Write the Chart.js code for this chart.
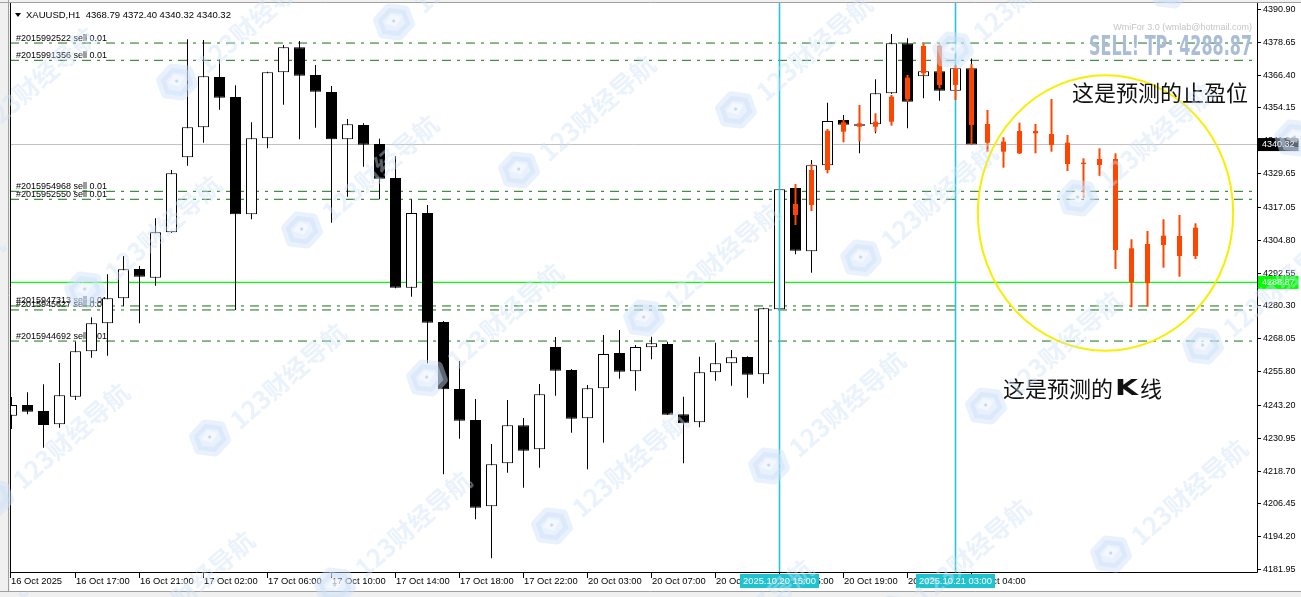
<!DOCTYPE html>
<html><head><meta charset="utf-8">
<script src="https://cdn.jsdelivr.net/npm/chart.js@4.4.1/dist/chart.umd.min.js"></script>
<style>html,body{margin:0;padding:0;background:#f0f0f0;overflow:hidden}canvas{display:block}</style>
</head><body>
<canvas id="c" width="1301" height="597"></canvas>
<script>
// ---------- DATA ----------
const symbolTitle = "XAUUSD,H1  4368.79 4372.40 4340.32 4340.32";
// real H1 candles, index 0 = 16 Oct 13:00
const opens = [4239.15,4243.14,4240.90,4235.94,4246.24,4263.18,4273.63,4282.95,4293.89,4290.64,
  4307.58,4335.57,4346.76,4365.53,4358.07,4314.30,4342.66,4367.28,4376.61,4366.27,
  4359.93,4342.28,4347.62,4340.53,4327.84,4286.91,4314.78,4274.11,4249.11,4237.54,
  4205.34,4221.39,4235.57,4226.61,4264.78,4256.20,4238.18,4249.37,4262.54,4255.71,
  4264.67,4265.90,4239.67,4236.68,4255.34,4258.70,4261.05,4254.59,4278.85,4324.11,
  4300.49,4332.58,4349.48,4347.88,4347.88,4359.45,4378.10,4365.79,4367.66,4360.42,4368.79];
const highs = [4246.13,4247.88,4250.86,4258.81,4266.76,4275.86,4291.91,4298.74,4295.01,4312.80,
  4330.83,4379.60,4379.33,4372.13,4362.43,4348.63,4367.50,4377.47,4378.96,4370.01,
  4362.17,4349.86,4348.25,4342.51,4336.05,4319.89,4317.77,4274.48,4259.56,4245.38,
  4228.59,4245.01,4238.29,4250.98,4268.51,4256.57,4250.60,4269.26,4271.13,4265.53,
  4268.63,4266.76,4246.24,4261.16,4266.39,4263.66,4261.30,4279.40,4323.80,4324.30,
  4334.56,4355.94,4351.35,4348.37,4364.67,4381.57,4379.97,4370.00,4370.50,4370.01,4372.40];
const lows = [4234.19,4239.67,4227.21,4234.67,4245.01,4260.79,4261.54,4280.08,4273.63,4287.66,
  4307.32,4332.43,4341.01,4353.33,4278.59,4312.43,4338.92,4355.19,4342.28,4346.61,
  4311.16,4320.86,4332.06,4319.89,4286.69,4283.55,4258.70,4217.28,4230.57,4200.49,
  4185.94,4217.88,4212.28,4219.75,4246.61,4232.80,4219.15,4229.07,4252.95,4248.48,
  4260.19,4239.40,4221.39,4234.82,4252.21,4250.34,4245.87,4251.09,4278.50,4299.37,
  4292.51,4331.57,4347.50,4337.06,4344.52,4359.20,4346.39,4357.58,4356.68,4356.95,4340.32];
const closes = [4243.14,4240.64,4235.68,4246.76,4263.18,4273.63,4282.95,4293.77,4291.01,4307.58,
  4329.60,4346.76,4365.79,4357.80,4314.30,4342.66,4367.28,4376.61,4366.01,4360.04,
  4342.28,4347.88,4340.27,4327.58,4286.91,4314.78,4273.85,4249.00,4237.28,4204.82,
  4221.01,4235.57,4226.09,4247.13,4255.94,4238.03,4249.37,4262.17,4255.56,4264.78,
  4266.16,4239.52,4236.31,4255.34,4258.70,4260.94,4254.45,4279.22,4323.63,4300.72,
  4332.58,4349.11,4347.73,4347.36,4359.45,4378.10,4356.31,4367.66,4360.42,4368.77,4340.32];

// forecast candles (orange), first one sits on candle index 49
const forecastStart = 49;
const fcOpen  = [4314.04,4317.77,4330.83,4345.12,4348.25,4346.98,4348.85,4357.21,4366.91,4377.10,4362.54,4368.77,
  4347.99,4341.39,4337.06,4345.38,4344.26,4341.01,4333.55,4332.69,4334.93,4301.61,4288.55,4302.84,4306.20,4298.74];
const fcHigh  = [4325.60,4333.07,4346.13,4349.48,4355.08,4351.98,4358.81,4366.27,4378.10,4377.60,4370.01,4370.38,
  4353.22,4343.03,4348.48,4347.99,4357.32,4343.89,4335.19,4338.92,4337.06,4304.97,4308.07,4312.43,4314.04,4310.94];
const fcLow   = [4310.30,4315.53,4329.60,4341.16,4341.39,4345.12,4347.36,4356.31,4366.27,4361.31,4356.95,4340.32,
  4337.66,4331.69,4336.80,4337.06,4337.66,4330.45,4320.49,4328.59,4293.89,4279.59,4279.82,4294.37,4291.01,4297.62];
const fcClose = [4318.14,4330.83,4345.49,4348.63,4346.98,4348.85,4358.18,4365.27,4377.10,4362.54,4368.77,4347.62,
  4341.01,4337.66,4345.38,4344.52,4340.16,4333.07,4333.07,4334.93,4300.98,4288.92,4303.22,4306.31,4298.74,4309.30];

// price axis tick labels
const priceTicks = ["4390.90","4378.65","4366.40","4354.15","4341.90","4329.65","4317.05","4304.80","4292.55",
  "4280.30","4268.05","4255.80","4243.20","4230.95","4218.70","4206.45","4194.20","4181.95"];
// time axis labels (candle index -> text)
const timeTickIdx = [0,4,8,12,16,20,24,28,32,36,40,44,48,52,56,60];
const timeTickText = ["16 Oct 2025","16 Oct 17:00","16 Oct 21:00","17 Oct 02:00","17 Oct 06:00","17 Oct 10:00",
  "17 Oct 14:00","17 Oct 18:00","17 Oct 22:00","20 Oct 03:00","20 Oct 07:00","20 Oct 11:00","20 Oct 15:00",
  "20 Oct 19:00","20 Oct 23:00","21 Oct 04:00"];
// open sell orders
const orderIds = ["2015992522","2015991356","2015954968","2015952550","2015947313","2015945627","2015944692"];
const orderLots = ["0.01","0.01","0.01","0.01","0.01","0.01","0.01"];
const orderPrices = [4378.20,4371.75,4322.87,4319.90,4280.10,4278.60,4267.00];
const tpPrice = 4288.87;
const bidPrice = 4340.32;
// vertical marker lines
const markerIdx = [48,59];
const markerText = ["2025.10.20 15:00","2025.10.21 03:00"];
// forecast ellipse (index / price units)
const ellipseCenter = [68.375, 4314.78];
const ellipseRadius = [7.98, 51.4];
// site watermark text
const watermarkText = "123财经导航";

// ---------- SCALE RANGE ----------
const X_MIN = -0.09375, X_MAX = 77.84375;
const Y_MIN = 4180.828, Y_MAX = 4393.139;

const idx = opens.map((_, i) => i);
const fcIdx = fcOpen.map((_, k) => forecastStart + k);

const hline = (p) => [{x: X_MIN, y: p}, {x: X_MAX, y: p}];
const vline = (i) => [{x: i, y: Y_MIN}, {x: i, y: Y_MAX}];

const datasets = [];
orderPrices.forEach((p) => datasets.push({
  type: 'line', data: hline(p), borderColor: '#157315', borderWidth: 1, borderDash: [9, 6, 3, 6],
  pointRadius: 0, order: 100
}));
datasets.push({type: 'line', data: hline(tpPrice), borderColor: '#00ff00', borderWidth: 1.3, pointRadius: 0, order: 99});
datasets.push({type: 'line', data: hline(bidPrice), borderColor: '#c0c0c0', borderWidth: 1, pointRadius: 0, order: 98});
datasets.push({
  type: 'bar', data: idx.map(i => ({x: i, y: [lows[i], highs[i]]})),
  backgroundColor: '#000', borderWidth: 0, barThickness: 1, grouped: false, inflateAmount: 0, order: 50
});
datasets.push({
  type: 'bar', data: idx.map(i => ({x: i, y: [opens[i], closes[i]]})),
  backgroundColor: idx.map(i => closes[i] >= opens[i] ? '#ffffff' : '#000000'),
  borderColor: '#000', borderWidth: 1, borderSkipped: false, barThickness: 11, minBarLength: 1,
  grouped: false, inflateAmount: 0, order: 45
});
markerIdx.forEach((m) => datasets.push({
  type: 'line', data: vline(m), borderColor: 'rgb(40,198,212)', borderWidth: 1.6, pointRadius: 0, order: 35
}));
datasets.push({
  type: 'bar', data: fcIdx.map((x, k) => ({x, y: [fcLow[k], fcHigh[k]]})),
  backgroundColor: '#ff4500', borderWidth: 0, barThickness: 2, grouped: false, inflateAmount: 0, order: 30
});
datasets.push({
  type: 'bar', data: fcIdx.map((x, k) => ({x, y: [fcOpen[k], fcClose[k]]})),
  backgroundColor: '#ff4500', borderWidth: 0, barThickness: 5, minBarLength: 1,
  grouped: false, inflateAmount: 0, order: 25
});

const FONT = '"Liberation Sans", Arial, sans-serif';
const CJK = '"Noto Sans CJK SC", sans-serif';

function drawWatermarks(ctx, W, H) {
  const base = [177, 82], va = [125, 148], vb = [342, 88];
  ctx.save();
  for (let i = -8; i <= 8; i++) {
    for (let j = -6; j <= 6; j++) {
      const lx = base[0] + i * va[0] + j * vb[0];
      const ly = base[1] + i * va[1] + j * vb[1];
      if (lx < -250 || lx > W + 40 || ly < -40 || ly > H + 200) continue;
      // logo
      ctx.save();
      ctx.translate(lx, ly); ctx.rotate(-0.35);
      ctx.beginPath();
      for (let k = 0; k < 6; k++) {
        const ang = Math.PI / 6 + k * Math.PI / 3;
        const px = 17 * Math.cos(ang), py = 15 * Math.sin(ang);
        if (k === 0) ctx.moveTo(px, py); else ctx.lineTo(px, py);
      }
      ctx.closePath();
      ctx.lineJoin = 'round'; ctx.lineWidth = 9;
      ctx.strokeStyle = 'rgba(205,225,248,0.45)'; ctx.fillStyle = 'rgba(205,225,248,0.45)';
      ctx.stroke(); ctx.fill();
      ctx.beginPath();
      ctx.moveTo(-9, -2); ctx.lineTo(0, -8); ctx.lineTo(9, -2); ctx.lineTo(0, 5); ctx.closePath();
      ctx.fillStyle = 'rgba(255,255,255,0.5)'; ctx.fill();
      ctx.beginPath(); ctx.arc(0, -1, 1.6, 0, Math.PI * 2);
      ctx.fillStyle = 'rgba(150,185,225,0.5)'; ctx.fill();
      ctx.restore();
      // text
      ctx.save();
      ctx.translate(lx + 78, ly - 62); ctx.rotate(-0.72);
      ctx.font = 'bold 25px ' + CJK; ctx.textAlign = 'center'; ctx.textBaseline = 'middle';
      ctx.fillStyle = 'rgba(205,225,248,0.42)';
      ctx.fillText(watermarkText, 0, 0);
      ctx.restore();
    }
  }
  ctx.restore();
}

const overlay = {
  id: 'overlay',
  beforeDraw(chart) {
    const ctx = chart.ctx, W = chart.width, H = chart.height;
    ctx.save();
    ctx.fillStyle = '#f0f0f0'; ctx.fillRect(0, 0, W, H);
    ctx.fillStyle = '#ffffff'; ctx.fillRect(10, 3, W - 10, 588);
    ctx.strokeStyle = '#a0a0a0'; ctx.lineWidth = 1;
    ctx.beginPath(); ctx.moveTo(0, 2.5); ctx.lineTo(W, 2.5); ctx.stroke();
    ctx.beginPath(); ctx.moveTo(8.5, 0); ctx.lineTo(8.5, 591); ctx.stroke();
    ctx.beginPath(); ctx.moveTo(0, 591.5); ctx.lineTo(W, 591.5); ctx.stroke();
    ctx.restore();
  },
  beforeDatasetsDraw(chart) {
    const ctx = chart.ctx, y = chart.scales.y;
    ctx.save();
    ctx.font = '9px ' + FONT; ctx.fillStyle = '#000'; ctx.textAlign = 'left'; ctx.textBaseline = 'alphabetic';
    orderPrices.forEach((p, k) => {
      ctx.fillText('#' + orderIds[k] + ' sell ' + orderLots[k], 16, y.getPixelForValue(p) - 2.5);
    });
    ctx.restore();
  },
  afterDatasetsDraw(chart) {
    const ctx = chart.ctx, x = chart.scales.x, y = chart.scales.y, a = chart.chartArea;
    ctx.save();
    // forecast ellipse
    const cx = x.getPixelForValue(ellipseCenter[0]), cy = y.getPixelForValue(ellipseCenter[1]);
    const rx = x.getPixelForValue(ellipseCenter[0] + ellipseRadius[0]) - cx;
    const ry = cy - y.getPixelForValue(ellipseCenter[1] + ellipseRadius[1]);
    ctx.strokeStyle = '#f8ee00'; ctx.lineWidth = 2;
    ctx.beginPath(); ctx.ellipse(cx, cy, rx, ry, 0, 0, Math.PI * 2); ctx.stroke();

    // frame
    ctx.strokeStyle = '#000'; ctx.lineWidth = 1;
    ctx.beginPath();
    ctx.moveTo(a.left + 0.5, a.top); ctx.lineTo(a.left + 0.5, a.bottom + 0.5);
    ctx.lineTo(a.right + 0.5, a.bottom + 0.5); ctx.lineTo(a.right + 0.5, a.top);
    ctx.stroke();

    // price axis
    ctx.font = '9px ' + FONT; ctx.fillStyle = '#000'; ctx.textAlign = 'left'; ctx.textBaseline = 'middle';
    priceTicks.forEach((t) => {
      const py = Math.round(y.getPixelForValue(parseFloat(t))) + 0.5;
      ctx.beginPath(); ctx.moveTo(a.right, py); ctx.lineTo(a.right + 4, py); ctx.stroke();
      ctx.fillText(t, a.right + 6, py);
    });
    // price boxes
    const priceBox = (p, bg) => {
      const py = y.getPixelForValue(p);
      const txt = p.toFixed(2);
      const w = ctx.measureText(txt).width;
      ctx.fillStyle = bg; ctx.fillRect(a.right + 1, py - 6.5, w + 8, 13);
      ctx.fillStyle = '#fff'; ctx.fillText(txt, a.right + 5, py);
    };
    priceBox(bidPrice, '#000000');
    priceBox(tpPrice, '#00ff00');

    // time axis
    ctx.fillStyle = '#000'; ctx.strokeStyle = '#000';
    ctx.font = '9.4px ' + FONT;
    timeTickIdx.forEach((i, k) => {
      let px = Math.round(x.getPixelForValue(i) - 0.5) + 0.5;
      if (k === 0) px = a.left + 0.5;
      ctx.beginPath(); ctx.moveTo(px, a.bottom); ctx.lineTo(px, a.bottom + 6); ctx.stroke();
      ctx.fillText(timeTickText[k], px + 0.5, a.bottom + 9.5);
    });
    markerIdx.forEach((m, k) => {
      const px = x.getPixelForValue(m);
      const w = ctx.measureText(markerText[k]).width + 6;
      ctx.fillStyle = '#1ec3cf'; ctx.fillRect(Math.round(px - w / 2), a.bottom + 2, Math.round(w), 14);
      ctx.fillStyle = '#fff'; ctx.textAlign = 'center';
      ctx.fillText(markerText[k], px, a.bottom + 9.5);
      ctx.textAlign = 'left';
    });

    // header
    ctx.fillStyle = '#000';
    ctx.font = '9.5px ' + FONT;
    ctx.beginPath(); ctx.moveTo(15, 13); ctx.lineTo(21, 13); ctx.lineTo(18, 17); ctx.closePath(); ctx.fill();
    ctx.fillText(symbolTitle, 26, 15);

    // EA texts top right
    ctx.font = '9px ' + FONT;
    ctx.textAlign = 'right'; ctx.fillStyle = '#c4c4c4';
    ctx.fillText('WmiFor 3.0 (wmlab@hotmail.com)', 1252, 28);
    ctx.font = 'bold 26px "DejaVu Sans", ' + FONT;
    const sell = 'SELL! TP: ' + tpPrice.toFixed(2);
    const sw = ctx.measureText(sell).width;
    ctx.save();
    ctx.translate(1252, 55); ctx.scale(163 / sw, 1);
    ctx.fillStyle = '#aabdd6'; ctx.textBaseline = 'alphabetic';
    ctx.fillText(sell, 0, 0);
    ctx.restore();

    // annotations
    ctx.textAlign = 'left'; ctx.textBaseline = 'alphabetic'; ctx.fillStyle = '#111';
    ctx.font = '22px ' + CJK;
    ctx.fillText('这是预测的止盈位', 1072, 101);
    ctx.fillText('这是预测的', 1003, 397);
    const kx = 1003 + ctx.measureText('这是预测的').width + 2;
    ctx.font = 'bold 22px "DejaVu Sans", ' + FONT;
    const kw = ctx.measureText('K').width;
    ctx.save(); ctx.translate(kx, 395); ctx.scale(23 / kw, 1); ctx.fillText('K', 0, 0); ctx.restore();
    ctx.font = '22px ' + CJK;
    ctx.fillText('线', kx + 25, 397);
    ctx.restore();
  },
  afterDraw(chart) {
    drawWatermarks(chart.ctx, chart.width, chart.height);
  }
};

new Chart(document.getElementById('c'), {
  type: 'bar',
  data: {datasets},
  options: {
    responsive: false, animation: false, events: [],
    layout: {padding: {left: 10, top: 3, right: 44, bottom: 25}},
    plugins: {legend: {display: false}, tooltip: {enabled: false}},
    scales: {
      x: {type: 'linear', min: X_MIN, max: X_MAX, offset: false, display: false},
      y: {type: 'linear', min: Y_MIN, max: Y_MAX, display: false, beginAtZero: false}
    }
  },
  plugins: [overlay]
});
</script>
</body></html>
